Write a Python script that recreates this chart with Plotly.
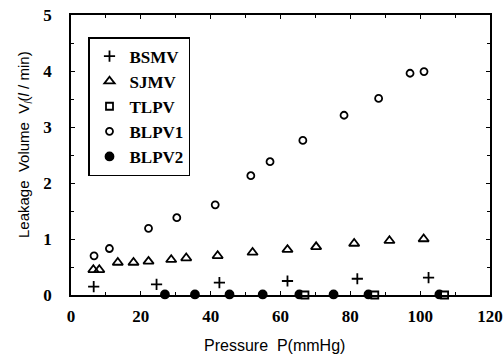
import plotly.graph_objects as go

# Data
bsmv_x = [6.5, 24.5, 42.5, 62, 82, 102.4]
bsmv_y = [0.15, 0.19, 0.22, 0.25, 0.29, 0.31]

sjmv_x = [6.4, 8.1, 13.4, 17.9, 22.2, 28.7, 33, 42, 52, 62, 70.2, 81.1, 91.2, 101]
sjmv_y = [0.45, 0.45, 0.58, 0.58, 0.60, 0.63, 0.66, 0.70, 0.76, 0.81, 0.86, 0.92, 0.97, 1.00]

tlpv_x = [67.0, 87.0, 107.0]
tlpv_y = [0.0, 0.0, 0.0]

blpv1_x = [6.6, 11, 22.2, 30.3, 41.3, 51.5, 57, 66.4, 78.2, 88.1, 97.1, 101.1]
blpv1_y = [0.70, 0.83, 1.19, 1.38, 1.61, 2.13, 2.38, 2.76, 3.21, 3.51, 3.96, 3.99]

blpv2_x = [26.9, 35.5, 45.4, 54.9, 65.4, 75.2, 85.2, 105.5]
blpv2_y = [0.01, 0.01, 0.01, 0.01, 0.01, 0.01, 0.01, 0.01]

x_ticks = [0, 20, 40, 60, 80, 100, 120]
y_ticks = [0, 1, 2, 3, 4, 5]

# (name, x, y, symbol, size, fill, legend rank); TLPV drawn last so it sits on top
series = [
    ("BSMV", bsmv_x, bsmv_y, "cross-thin", 8, "black", 1),
    ("SJMV", sjmv_x, sjmv_y, "triangle-up-open", 9, "black", 2),
    ("BLPV1", blpv1_x, blpv1_y, "circle-open", 7, "black", 4),
    ("BLPV2", blpv2_x, blpv2_y, "circle", 8, "black", 5),
    ("TLPV", tlpv_x, tlpv_y, "square", 7, "white", 3),
]

fig = go.Figure()
for name, xs, ys, sym, sz, fill, rank in series:
    fig.add_trace(go.Scatter(
        x=xs, y=ys, mode="markers", name=name, legendgroup=name, legendrank=rank,
        cliponaxis=False,
        marker=dict(symbol=sym, size=sz, color=fill,
                    line=dict(color="black", width=1.8)),
    ))

serif_bold = dict(family="Liberation Serif", size=17, color="black", weight="bold")

fig.update_layout(
    width=504, height=362,
    margin=dict(l=71, r=14, t=15, b=67),
    paper_bgcolor="white", plot_bgcolor="white",
    showlegend=True,
    legend=dict(
        x=(88 - 71) / 419, y=(295 - 37) / 280, xanchor="left", yanchor="top",
        bordercolor="black", borderwidth=1.5, bgcolor="white",
        font=dict(family="Liberation Serif", size=17, color="black", weight="bold"),
        tracegroupgap=0,
    ),
    xaxis=dict(
        range=[0, 120], tickvals=x_ticks, ticktext=[str(v) for v in x_ticks],
        showgrid=False, zeroline=False, showline=True, linecolor="black", linewidth=1.5,
        mirror="allticks", ticks="inside", ticklen=4, tickwidth=1, tickcolor="black",
        minor=dict(dtick=10, ticks="inside", ticklen=3, tickcolor="black"),
        tickfont=serif_bold, ticklabelstandoff=5, automargin=False,
    ),
    yaxis=dict(
        range=[0, 5], tickvals=y_ticks, ticktext=[str(v) for v in y_ticks],
        showgrid=False, zeroline=False, showline=True, linecolor="black", linewidth=1.5,
        mirror="allticks", ticks="inside", ticklen=4, tickwidth=1, tickcolor="black",
        minor=dict(dtick=0.5, ticks="inside", ticklen=3, tickcolor="black"),
        tickfont=serif_bold, ticklabelstandoff=14, automargin=False,
    ),
    annotations=[
        dict(text="Pressure  P(mmHg)", xref="paper", yref="paper",
             x=(274 - 71) / 419, y=(295 - 345) / 280, xanchor="center", yanchor="middle",
             showarrow=False, font=dict(family="Liberation Sans", size=16, color="black")),
        dict(text="Leakage  Volume  V<sub><i>l</i></sub>(<i>l</i> / min)", xref="paper", yref="paper",
             x=(24 - 71) / 419, y=(295 - 145) / 280, xanchor="center", yanchor="middle",
             textangle=-90, showarrow=False,
             font=dict(family="Liberation Sans", size=15, color="black")),
    ],
)

fig.write_html("out.html")
